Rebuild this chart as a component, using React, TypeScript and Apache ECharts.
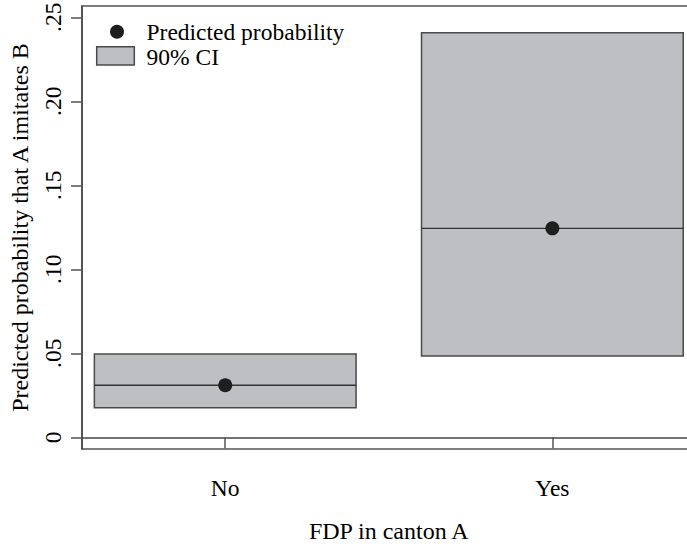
import React, { useEffect, useRef } from "react";
import * as echarts from "echarts";

const categories = ["No", "Yes"];
const categoryPositions = [1, 2];
const predicted = [0.031, 0.1244];
const ciLower = [0.0176, 0.0484];
const ciUpper = [0.0496, 0.2408];
const yTicks = [0, 0.05, 0.1, 0.15, 0.2, 0.25];
const yTickLabels = ["0", ".05", ".10", ".15", ".20", ".25"];

const FONT = "'Liberation Serif', 'Times New Roman', serif";
const BOX_FILL = "#bebfc2";
const BOX_STROKE = "#4a4a4a";
const HALF = 0.4;

export default function App() {
  const ref = useRef<HTMLDivElement>(null);
  useEffect(() => {
    if (!ref.current) return;
    const chart = echarts.init(ref.current, null, { renderer: "svg" });
    const boxData = categoryPositions.map((x, i) => [x, ciLower[i], ciUpper[i], predicted[i]]);
    const pointData = categoryPositions.map((x, i) => [x, predicted[i]]);
    chart.setOption({
      animation: false,
      backgroundColor: "#ffffff",
      textStyle: { fontFamily: FONT, color: "#000" },
      grid: {
        left: 82,
        top: 6,
        right: 14.4,
        bottom: 98,
        show: true,
        borderColor: "#555",
        borderWidth: 1.5,
        containLabel: false,
        outerBoundsMode: "none",
      },
      xAxis: {
        type: "value",
        min: 0.5622,
        max: 2.4378,
        splitLine: { show: false },
        axisLine: { show: true, lineStyle: { color: "#444", width: 1.5 } },
        axisTick: {
          show: true,
          customValues: categoryPositions,
          length: 11,
          lineStyle: { color: "#555", width: 1.5 },
        },
        axisLabel: {
          customValues: categoryPositions,
          formatter: (v: number) => categories[categoryPositions.indexOf(Math.round(v))] ?? "",
          fontFamily: FONT,
          fontSize: 23.5,
          color: "#000",
          margin: 27,
        },
        name: "FDP in canton A",
        nameLocation: "middle",
        nameGap: 70,
        nameTextStyle: { fontFamily: FONT, fontSize: 24, color: "#000" },
      },
      yAxis: {
        type: "value",
        min: -0.00696,
        max: 0.25673,
        splitLine: { show: false },
        axisLine: { show: true, lineStyle: { color: "#444", width: 1.5 } },
        axisTick: {
          show: true,
          customValues: yTicks,
          length: 11,
          lineStyle: { color: "#555", width: 1.5 },
        },
        axisLabel: {
          customValues: yTicks,
          rotate: 90,
          formatter: (v: number) => {
            const idx = yTicks.findIndex((t) => Math.abs(t - v) < 1e-9);
            return idx >= 0 ? yTickLabels[idx] : "";
          },
          fontFamily: FONT,
          fontSize: 23.5,
          color: "#000",
          margin: 17,
        },
        name: "Predicted probability that A imitates B",
        nameLocation: "middle",
        nameGap: 50,
        nameRotate: 90,
        nameTextStyle: { fontFamily: FONT, fontSize: 24, color: "#000" },
      },
      series: [
        {
          name: "90% CI",
          type: "custom",
          data: boxData,
          z: 2,
          renderItem: (params: any, api: any) => {
            const x = api.value(0);
            const lo = api.value(1);
            const hi = api.value(2);
            const mid = api.value(3);
            const p1 = api.coord([x - HALF, hi]);
            const p2 = api.coord([x + HALF, lo]);
            const m1 = api.coord([x - HALF, mid]);
            const m2 = api.coord([x + HALF, mid]);
            return {
              type: "group",
              children: [
                {
                  type: "rect",
                  shape: { x: p1[0], y: p1[1], width: p2[0] - p1[0], height: p2[1] - p1[1] },
                  style: { fill: BOX_FILL, stroke: BOX_STROKE, lineWidth: 1.5 },
                },
                {
                  type: "line",
                  shape: { x1: m1[0], y1: m1[1], x2: m2[0], y2: m2[1] },
                  style: { stroke: "#333", lineWidth: 1.3 },
                },
              ],
            };
          },
        },
        {
          name: "Predicted probability",
          type: "scatter",
          data: pointData,
          symbol: "circle",
          symbolSize: 14,
          z: 3,
          itemStyle: { color: "#1e1e1e", opacity: 1 },
        },
      ],
      graphic: [
        {
          type: "circle",
          shape: { cx: 117, cy: 31.7, r: 7 },
          style: { fill: "#1e1e1e" },
          z: 10,
        },
        {
          type: "rect",
          shape: { x: 96.7, y: 46.7, width: 37.6, height: 18.3 },
          style: { fill: BOX_FILL, stroke: BOX_STROKE, lineWidth: 1.5 },
          z: 10,
        },
        {
          type: "text",
          x: 146.5,
          y: 31.5,
          style: {
            text: "Predicted probability",
            fontFamily: FONT,
            fontSize: 23.5,
            fill: "#000",
            verticalAlign: "middle",
            align: "left",
          },
          z: 10,
        },
        {
          type: "text",
          x: 146.5,
          y: 56.5,
          style: {
            text: "90% CI",
            fontFamily: FONT,
            fontSize: 23.5,
            fill: "#000",
            verticalAlign: "middle",
            align: "left",
          },
          z: 10,
        },
      ],
    });
    return () => chart.dispose();
  }, []);
  return (
    <div
      style={{
        position: "absolute",
        left: 0,
        top: 0,
        width: 687,
        height: 547,
        overflow: "hidden",
        background: "#fff",
      }}
    >
      <div ref={ref} style={{ width: 710, height: 547 }} />
    </div>
  );
}
